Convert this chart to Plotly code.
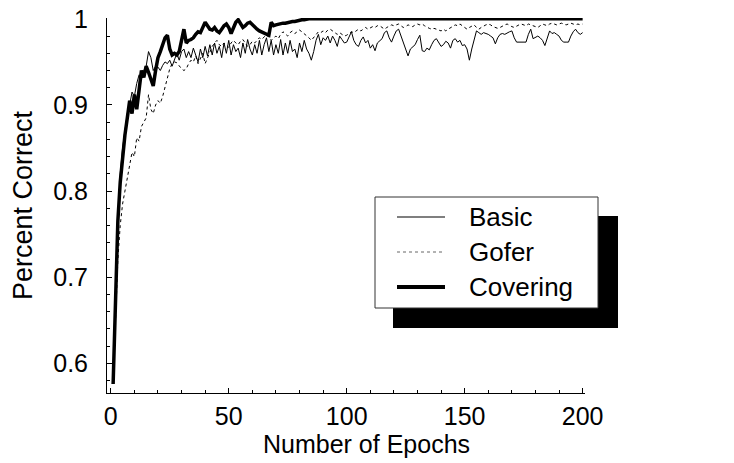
import plotly.graph_objects as go

epochs = list(range(1, 201))

basic = [
    0.576, 0.69, 0.77, 0.82, 0.85, 0.87, 0.89, 0.90, 0.915, 0.91,
    0.925, 0.935, 0.93, 0.94, 0.945, 0.962, 0.955, 0.94, 0.945, 0.944,
    0.94, 0.946, 0.95, 0.948, 0.952, 0.945, 0.953, 0.96, 0.952, 0.962,
    0.965, 0.955, 0.962, 0.955, 0.966, 0.958, 0.95, 0.965, 0.955, 0.968,
    0.957, 0.97, 0.958, 0.972, 0.96, 0.968, 0.955, 0.972, 0.96, 0.975,
    0.958, 0.97, 0.962, 0.966, 0.955, 0.972, 0.96, 0.976, 0.965, 0.958,
    0.97, 0.96, 0.975, 0.958, 0.97, 0.978, 0.962, 0.975, 0.958, 0.97,
    0.96, 0.976, 0.958, 0.972, 0.96, 0.975, 0.962, 0.965, 0.955, 0.972,
    0.962, 0.975, 0.965, 0.96, 0.952, 0.962, 0.975, 0.982, 0.97, 0.978,
    0.975, 0.98, 0.972, 0.98, 0.975, 0.968, 0.98, 0.976, 0.972, 0.973,
    0.98, 0.985, 0.975, 0.97, 0.968, 0.975, 0.979, 0.972, 0.975, 0.966,
    0.97, 0.963, 0.972, 0.975, 0.977, 0.984, 0.986, 0.978, 0.973, 0.98,
    0.986, 0.988, 0.98, 0.973, 0.965, 0.957, 0.965, 0.967, 0.97, 0.976,
    0.981, 0.963, 0.962, 0.966, 0.964, 0.97, 0.975, 0.977, 0.972, 0.968,
    0.97, 0.974, 0.972, 0.966, 0.975, 0.977, 0.973, 0.975, 0.969, 0.97,
    0.965, 0.952, 0.965, 0.975, 0.986, 0.984, 0.982, 0.984, 0.983, 0.982,
    0.98, 0.978, 0.971, 0.978, 0.982, 0.983, 0.982, 0.984, 0.985, 0.986,
    0.978, 0.973, 0.973, 0.973, 0.973, 0.973, 0.982, 0.988, 0.977, 0.979,
    0.98, 0.978, 0.975, 0.969, 0.978, 0.986, 0.983, 0.984, 0.982, 0.98,
    0.975, 0.973, 0.973, 0.973, 0.98, 0.985, 0.988, 0.984, 0.982, 0.984,
]

gofer = [
    0.576, 0.66, 0.72, 0.76, 0.785, 0.80, 0.815, 0.83, 0.845, 0.84,
    0.862, 0.858, 0.875, 0.88, 0.885, 0.912, 0.895, 0.89, 0.90, 0.905,
    0.902, 0.91, 0.92, 0.932, 0.942, 0.948, 0.95, 0.949, 0.945, 0.942,
    0.94, 0.942, 0.948, 0.952, 0.95, 0.957, 0.948, 0.955, 0.96, 0.948,
    0.955, 0.962, 0.968, 0.972, 0.975, 0.97, 0.968, 0.972, 0.97, 0.967,
    0.972, 0.975, 0.972, 0.97, 0.974, 0.976, 0.972, 0.968, 0.97, 0.974,
    0.972, 0.975, 0.978, 0.976, 0.979, 0.982, 0.978, 0.975, 0.978, 0.98,
    0.977, 0.982, 0.985, 0.983, 0.98, 0.984, 0.986, 0.983, 0.985, 0.987,
    0.985, 0.983, 0.98, 0.978, 0.975, 0.978, 0.982, 0.985, 0.984, 0.986,
    0.984, 0.987, 0.988, 0.986, 0.983, 0.982, 0.984, 0.982, 0.98, 0.981,
    0.983, 0.985, 0.984, 0.986, 0.988, 0.986, 0.988, 0.99, 0.988, 0.99,
    0.991, 0.99, 0.992, 0.992, 0.99, 0.988, 0.99, 0.992, 0.993, 0.992,
    0.993, 0.994, 0.992, 0.99, 0.991, 0.993, 0.992, 0.991, 0.993, 0.994,
    0.993, 0.994, 0.992, 0.99, 0.989, 0.988, 0.989, 0.988, 0.987, 0.986,
    0.988, 0.986, 0.988, 0.99, 0.992, 0.993, 0.992, 0.994, 0.992, 0.99,
    0.988, 0.99, 0.992, 0.993, 0.99, 0.988, 0.99, 0.992, 0.993, 0.994,
    0.993, 0.991, 0.99, 0.989, 0.99, 0.992, 0.993, 0.994, 0.992, 0.991,
    0.99, 0.992, 0.993, 0.994, 0.993, 0.992, 0.994, 0.993, 0.992, 0.991,
    0.99, 0.992, 0.994, 0.993, 0.992, 0.994, 0.995, 0.994, 0.993, 0.994,
    0.995, 0.994, 0.993, 0.994, 0.995, 0.994, 0.993, 0.994, 0.993, 0.994,
]

covering = [
    0.576, 0.69, 0.765, 0.81, 0.84, 0.865, 0.885, 0.905, 0.89, 0.912,
    0.895, 0.92, 0.94, 0.932, 0.945, 0.938, 0.93, 0.922, 0.94, 0.955,
    0.962, 0.97, 0.978, 0.981, 0.965, 0.958, 0.96, 0.958, 0.962, 0.975,
    0.988, 0.972, 0.975, 0.976, 0.978, 0.982, 0.985, 0.984, 0.99, 0.996,
    0.992, 0.988, 0.987, 0.99, 0.986, 0.984, 0.988, 0.992, 0.994, 0.99,
    0.983, 0.99, 0.996, 0.999, 0.995, 0.99, 0.992, 0.995, 0.996, 0.993,
    0.99, 0.988, 0.986, 0.985, 0.984, 0.982, 0.981, 0.996, 0.992, 0.993,
    0.994, 0.994, 0.995, 0.995, 0.996, 0.996, 0.997, 0.997, 0.998, 0.998,
    0.999, 0.999,
] + [1.0] * 118

series_names = ["Basic", "Gofer", "Covering"]
x_ticks = [0, 50, 100, 150, 200]
y_ticks = [0.6, 0.7, 0.8, 0.9, 1.0]
y_tick_text = ["0.6", "0.7", "0.8", "0.9", "1"]
x_title = "Number of Epochs"
y_title = "Percent Correct"

# figure fills the whole window (page body margin is removed by post_script)
W, H = 734, 463
# plot area in window pixels: x 107..585, y 18..393
L_PX, R_PX, T_PX, B_PX = 107, 585, 18, 393
ML, MT = L_PX, T_PX
MR, MB = W - R_PX, H - B_PX
PW, PH = R_PX - L_PX, B_PX - T_PX


def px(x):
    return (x - L_PX) / PW


def py(y):
    return 1 - (y - T_PX) / PH


FONT = "Liberation Sans, Arial, Helvetica, sans-serif"
FS_TICK = 25
FS_TITLE = 25
FS_LEG = 26

line_styles = [
    dict(color="black", width=1),
    dict(color="black", width=1, dash="dot"),
    dict(color="black", width=3.5),
]
sample_styles = [
    dict(color="#555", width=1.5),
    dict(color="#666", width=1, dash="dot"),
    dict(color="black", width=4),
]

fig = go.Figure()
for name, ys, ls in zip(series_names, [basic, gofer, covering], line_styles):
    fig.add_trace(go.Scatter(x=epochs, y=ys, name=name, mode="lines", line=ls, showlegend=False))

# legend box with drop shadow
shapes = [
    dict(type="rect", xref="paper", yref="paper", x0=px(393), x1=px(618), y0=py(216), y1=py(328),
         fillcolor="black", line=dict(width=0), layer="above"),
    dict(type="rect", xref="paper", yref="paper", x0=px(375), x1=px(598), y0=py(197), y1=py(308),
         fillcolor="white", line=dict(color="#333", width=1), layer="above"),
]
annotations = []
row_y = [217, 252, 287]
for name, ry, ss in zip(series_names, row_y, sample_styles):
    shapes.append(dict(type="line", xref="paper", yref="paper", x0=px(397), x1=px(445),
                       y0=py(ry), y1=py(ry), line=ss, layer="above"))
    annotations.append(dict(xref="paper", yref="paper", x=px(467), y=py(ry), text=name,
                            showarrow=False, xanchor="left", yanchor="middle",
                            font=dict(family=FONT, size=FS_LEG, color="black")))

# x-axis title (centred slightly right of the plot centre, as in the reference)
annotations.append(dict(xref="paper", yref="paper", x=px(366), y=py(444), text=x_title,
                        showarrow=False, xanchor="center", yanchor="middle",
                        font=dict(family=FONT, size=FS_TITLE, color="black")))

fig.update_layout(
    width=W, height=H,
    margin=dict(l=ML, r=MR, t=MT, b=MB),
    paper_bgcolor="white", plot_bgcolor="white",
    font=dict(family=FONT, size=FS_TICK, color="black"),
    shapes=shapes,
    annotations=annotations,
    showlegend=False,
    xaxis=dict(range=[-1.6, 201], showline=True, linecolor="black", linewidth=1, automargin=False,
               showgrid=False, zeroline=False, ticks="inside", ticklen=5, tickcolor="black",
               tickvals=x_ticks, ticktext=[str(v) for v in x_ticks],
               minor=dict(dtick=10, tick0=0, ticks="inside", ticklen=3, tickcolor="black"),
               ticklabelstandoff=1, ticklabeloverflow="allow",
               tickfont=dict(size=FS_TICK)),
    yaxis=dict(range=[0.5655, 1.001], showline=True, linecolor="black", linewidth=1, automargin=False,
               showgrid=False, zeroline=False, ticks="inside", ticklen=5, tickcolor="black",
               tickvals=y_ticks, ticktext=y_tick_text,
               minor=dict(dtick=0.02, tick0=0.6, ticks="inside", ticklen=3, tickcolor="black"),
               ticklabelstandoff=13, ticklabeloverflow="allow",
               title=dict(text=y_title, standoff=12, font=dict(size=27)),
               tickfont=dict(size=FS_TICK)),
)

fig.write_html("out.html", config={"displayModeBar": False},
               post_script="document.body.style.margin='0px';")
